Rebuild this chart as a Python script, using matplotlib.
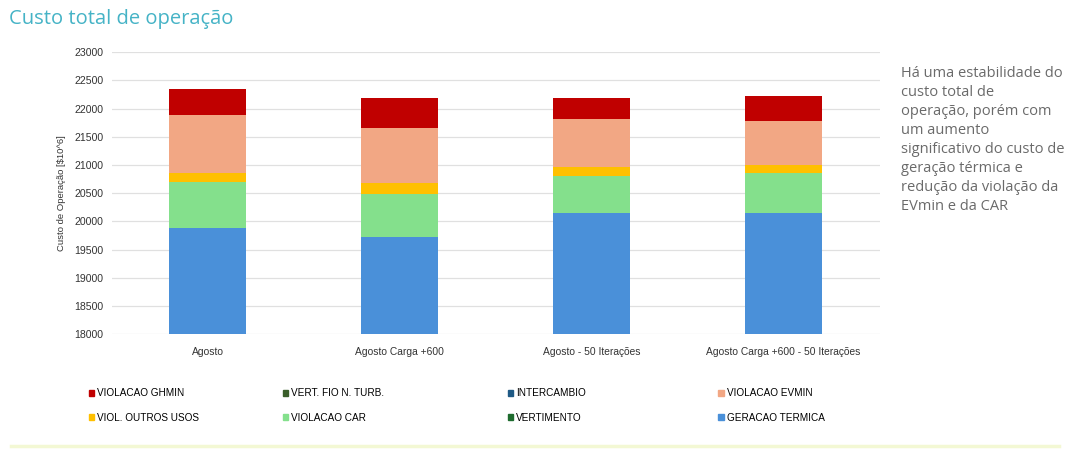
import matplotlib.pyplot as plt
import numpy as np
from matplotlib.patches import Patch

# categorias e valores
cenarios = ["Agosto", "Agosto Carga +600", "Agosto - 50 Iterações",
            "Agosto Carga +600 - 50 Iterações"]
geracao_termica = [19880, 19720, 20150, 20150]
violacao_car = [810, 770, 650, 700]
viol_outros_usos = [160, 190, 160, 150]
violacao_evmin = [1040, 970, 860, 780]
violacao_ghmin = [450, 530, 370, 440]
vertimento = [0, 0, 0, 0]
intercambio = [0, 0, 0, 0]
vert_fio_n_turb = [0, 0, 0, 0]

y_ticks = list(range(18000, 23001, 500))

comentario = ("Há uma estabilidade do\ncusto total de\noperação, porém com\num aumento\n"
              "significativo do custo de\ngeração térmica e\nredução da violação da\n"
              "EVmin e da CAR")


def main():
    plt.rcParams['font.family'] = ['Liberation Sans Narrow', 'Liberation Sans', 'DejaVu Sans']

    fig = plt.figure(figsize=(10.86, 4.54), dpi=100)
    ax = fig.add_axes([0.103, 0.264, 0.707, 0.621])

    # ordem de empilhamento (de baixo para cima)
    series = [
        ("GERACAO TERMICA", geracao_termica, "#4a90d9"),
        ("VIOLACAO CAR", violacao_car, "#84e08c"),
        ("VIOL. OUTROS USOS", viol_outros_usos, "#ffc000"),
        ("VIOLACAO EVMIN", violacao_evmin, "#f2a784"),
        ("VIOLACAO GHMIN", violacao_ghmin, "#c00000"),
        ("VERTIMENTO", vertimento, "#1e6b2e"),
        ("INTERCAMBIO", intercambio, "#1f5a85"),
        ("VERT. FIO N. TURB.", vert_fio_n_turb, "#3a5e2a"),
    ]
    cores = {}
    x = np.arange(len(cenarios))
    base = np.zeros(len(cenarios))
    for nome, vals, cor in series:
        vals = np.array(vals, dtype=float)
        ax.bar(x, vals, 0.4, bottom=base, color=cor, zorder=3)
        base = base + vals
        cores[nome] = cor

    ax.set_xlim(-0.5, len(cenarios) - 0.5)
    ax.set_ylim(18000, 23000)
    ax.set_yticks(y_ticks)
    ax.set_xticks(x)
    ax.set_xticklabels(cenarios, fontsize=7.4, color="#333333")
    ax.tick_params(axis='y', labelsize=7.6, labelcolor="#333333", length=0, pad=6)
    ax.tick_params(axis='x', length=0, pad=9)
    ax.grid(axis='y', color="#e0e0e0", linewidth=0.9, zorder=0)
    for s in ax.spines.values():
        s.set_visible(False)
    ax.set_ylabel(r"Custo de Operação [\$10^6]", fontsize=6.8, color="#333333", labelpad=6)

    # legenda em 4 colunas de 2 linhas
    colunas = [
        ["VIOLACAO GHMIN", "VIOL. OUTROS USOS"],
        ["VERT. FIO N. TURB.", "VIOLACAO CAR"],
        ["INTERCAMBIO", "VERTIMENTO"],
        ["VIOLACAO EVMIN", "GERACAO TERMICA"],
    ]
    pos_x = [0.0815, 0.2605, 0.4675, 0.6615]
    for px, col in zip(pos_x, colunas):
        handles = [Patch(color=cores[n]) for n in col]
        fig.legend(handles, col, loc='upper left', bbox_to_anchor=(px, 0.145),
                   frameon=False, fontsize=7.2, handlelength=0.55, handleheight=0.55,
                   handletextpad=0.3, labelspacing=1.45, borderaxespad=0, borderpad=0)

    fig.text(0.008, 0.958, "Custo total de operação", fontsize=14.5, color="#45b3c6",
             family=['Open Sans', 'DejaVu Sans'], va='center')
    fig.text(0.830, 0.855, comentario, fontsize=10.5, color="#6a6a6a",
             family=['Open Sans', 'DejaVu Sans'], va='top', linespacing=1.36)

    # faixa clara no rodape
    fig.add_artist(plt.Line2D([0.01, 0.975], [0.018, 0.018], color="#f3f8d4", linewidth=2.5))

    fig.savefig("out.png", dpi=100)


if __name__ == "__main__":
    main()
